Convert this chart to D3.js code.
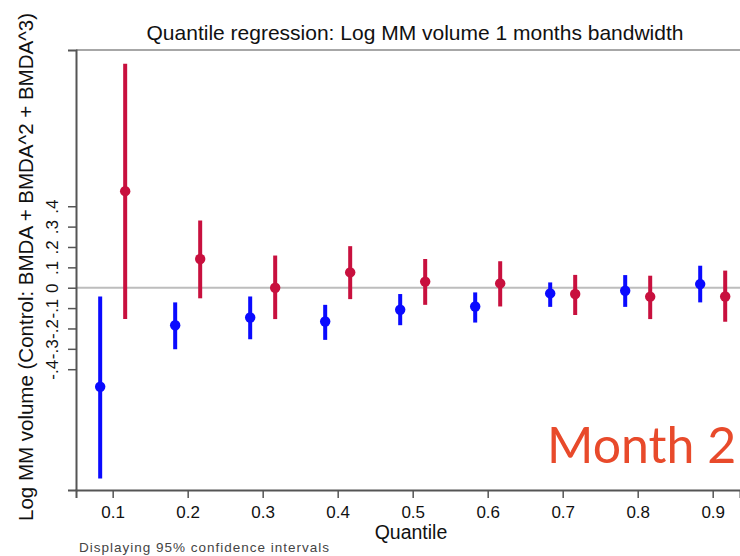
<!DOCTYPE html>
<html>
<head>
<meta charset="utf-8">
<script src="https://cdn.jsdelivr.net/npm/d3@7"></script>
<style>
body { margin: 0; background: #fff; }
text { font-family: "Liberation Sans", Arial, sans-serif; fill: #111; }
</style>
</head>
<body>
<div id="chart"></div>
<script>
// quantile regression estimates
var quantiles = [0.1, 0.2, 0.3, 0.4, 0.5, 0.6, 0.7, 0.8, 0.9];

var blueCoef = [-0.486, -0.184, -0.146, -0.166, -0.108, -0.092, -0.028, -0.015, 0.018];
var blueLow  = [-0.937, -0.302, -0.253, -0.256, -0.184, -0.171, -0.094, -0.094, -0.072];
var blueHigh = [-0.043, -0.072, -0.043, -0.084, -0.031, -0.023, 0.026, 0.062, 0.108];

var redCoef = [0.474, 0.141, 0.000, 0.075, 0.030, 0.021, -0.031, -0.044, -0.043];
var redLow  = [-0.154, -0.052, -0.154, -0.056, -0.084, -0.092, -0.134, -0.154, -0.167];
var redHigh = [1.099, 0.330, 0.158, 0.204, 0.141, 0.130, 0.063, 0.059, 0.084];

var xTicks = [0.1, 0.2, 0.3, 0.4, 0.5, 0.6, 0.7, 0.8, 0.9];
var yTicks = [-0.4, -0.3, -0.2, -0.1, 0, 0.1, 0.2, 0.3, 0.4];
var yTickLabels = ["-.4", "-.3", "-.2", "-.1", "0", ".1", ".2", ".3", ".4"];

var title = "Quantile regression: Log MM volume 1 months bandwidth";
var yTitle = "Log MM volume (Control: BMDA + BMDA^2 + BMDA^3)";
var xTitle = "Quantile";
var note = "Displaying 95% confidence intervals";
var stamp = "Month 2";

var margin = {top: 50, right: 0, bottom: 66, left: 76},
    width = 740 - margin.left - margin.right,
    height = 556 - margin.top - margin.bottom;

var svg = d3.select("#chart")
    .append("svg")
    .attr("width", 740)
    .attr("height", 556);

var g = svg.append("g")
    .attr("transform", "translate(" + margin.left + "," + margin.top + ")");

var x = d3.scaleLinear()
    .domain([0.0511, 0.9364])
    .range([0, width]);

var y = d3.scaleLinear()
    .domain([-0.993, 1.167])
    .range([height, 0]);

var blue = "#0a0aff";
var red = "#c8103e";
var shift = 12.5; // pixel offset of the two series around each tick

// top frame line
g.append("line")
    .attr("x1", 0).attr("x2", width)
    .attr("y1", 0).attr("y2", 0)
    .style("stroke", "#8a8a8a")
    .style("stroke-width", 1.5);

// zero reference line
g.append("line")
    .attr("x1", 0).attr("x2", width)
    .attr("y1", y(0)).attr("y2", y(0))
    .style("stroke", "#bdbdbd")
    .style("stroke-width", 2);

var xAxis = g.append("g")
    .attr("transform", "translate(0," + height + ")")
    .call(d3.axisBottom(x).tickValues(xTicks).tickSize(8).tickPadding(8).tickFormat(d3.format(".1f")));
xAxis.select(".domain").style("stroke", "#555").style("stroke-width", 2);
xAxis.selectAll(".tick line").style("stroke", "#555").style("stroke-width", 1.5);
xAxis.selectAll(".tick text")
    .style("font-size", "17px")
    .style("font-family", "Liberation Sans, Arial, sans-serif")
    .attr("fill", "#111");

var yAxis = g.append("g")
    .call(d3.axisLeft(y).tickValues(yTicks).tickSize(8).tickFormat(function(d, i) { return yTickLabels[i]; }));
yAxis.select(".domain").style("stroke", "#555").style("stroke-width", 2);
yAxis.selectAll(".tick line").style("stroke", "#555").style("stroke-width", 1.5);
yAxis.selectAll(".tick text")
    .attr("transform", "rotate(-90)")
    .attr("x", 0)
    .attr("y", -18)
    .attr("dy", 0)
    .attr("text-anchor", "middle")
    .style("font-size", "17px")
    .style("font-family", "Liberation Sans, Arial, sans-serif")
    .attr("fill", "#111");

function drawSeries(coef, low, high, color, dx)
{
    var rows = quantiles.map(function(q, i) {
        return {q: q, coef: coef[i], low: low[i], high: high[i]};
    });

    g.append("g")
        .selectAll("line")
        .data(rows)
        .enter()
        .append("line")
        .attr("x1", function(d) { return x(d.q) + dx; })
        .attr("x2", function(d) { return x(d.q) + dx; })
        .attr("y1", function(d) { return y(d.low); })
        .attr("y2", function(d) { return y(d.high); })
        .style("stroke", color)
        .style("stroke-width", 4);

    g.append("g")
        .selectAll("circle")
        .data(rows)
        .enter()
        .append("circle")
        .attr("cx", function(d) { return x(d.q) + dx; })
        .attr("cy", function(d) { return y(d.coef); })
        .attr("r", 5.2)
        .style("fill", color);
}

drawSeries(blueCoef, blueLow, blueHigh, blue, -shift);
drawSeries(redCoef, redLow, redHigh, red, shift);

svg.append("text")
    .attr("x", 415)
    .attr("y", 40)
    .attr("text-anchor", "middle")
    .style("font-size", "21px")
    .text(title);

svg.append("text")
    .attr("transform", "translate(33,267) rotate(-90)")
    .attr("text-anchor", "middle")
    .style("font-size", "20.5px")
    .text(yTitle);

svg.append("text")
    .attr("x", 411)
    .attr("y", 539)
    .attr("text-anchor", "middle")
    .style("font-size", "19.5px")
    .text(xTitle);

svg.append("text")
    .attr("x", 79)
    .attr("y", 552)
    .style("font-size", "13.5px")
    .style("letter-spacing", "1px")
    .style("fill", "#444")
    .text(note);

svg.append("text")
    .attr("x", 547)
    .attr("y", 463)
    .style("font-family", "Lato, 'Open Sans', sans-serif")
    .style("font-size", "50px")
    .style("fill", "#e84a2b")
    .text(stamp);
</script>
</body>
</html>
